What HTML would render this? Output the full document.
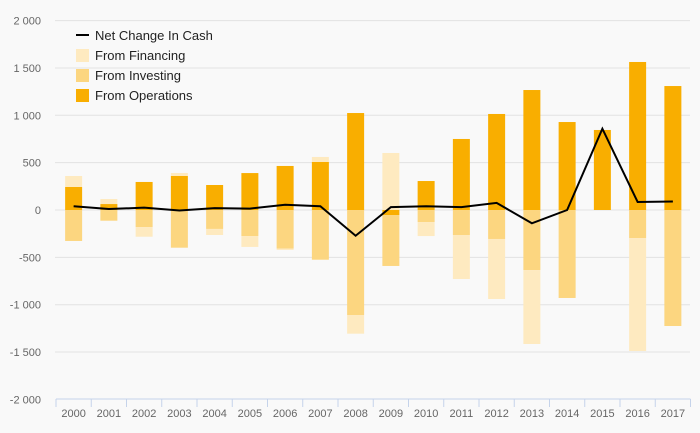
<!DOCTYPE html>
<html><head><meta charset="utf-8"><style>
html,body{margin:0;padding:0;background:#f9f9f9;}
svg{display:block;font-family:"Liberation Sans",sans-serif;}
</style></head><body>
<svg id="chart" width="700" height="433">
<rect width="700" height="433" fill="#f9f9f9"/>
<g id="grid"></g><g id="bars"></g><g id="line"></g><g id="axes"></g>
<g id="legend">
 <g><line x1="76" y1="35" x2="89" y2="35" stroke="#000" stroke-width="2"/><text x="95" y="40" font-size="13" fill="#222">Net Change In Cash</text></g>
 <g><rect x="76" y="49" width="13" height="13" fill="#feeac0"/><text x="95" y="60" font-size="13" fill="#222">From Financing</text></g>
 <g><rect x="76" y="69" width="13" height="13" fill="#fcd680"/><text x="95" y="80" font-size="13" fill="#222">From Investing</text></g>
 <g><rect x="76" y="89" width="13" height="13" fill="#f9ae00"/><text x="95" y="100" font-size="13" fill="#222">From Operations</text></g>
</g>
</svg>
<script>
const years=[2000,2001,2002,2003,2004,2005,2006,2007,2008,2009,2010,2011,2012,2013,2014,2015,2016,2017];
const operations=[243,63,296,359,264,390,465,507,1024,-53,306,750,1014,1267,929,845,1563,1309];
const investing=[-327,-113,-180,-398,-200,-275,-408,-525,-1109,-538,-127,-264,-306,-634,-929,0,-296,-1225];
const financing=[116,53,-102,32,-64,-115,-14,53,-197,602,-148,-465,-634,-781,0,0,-1193,0];
const netChange=[39,10,25,-5,20,15,55,40,-272,30,40,30,75,-140,0,858,85,90];
const yTicks=[-2000,-1500,-1000,-500,0,500,1000,1500,2000];
const yTickLabels=["-2 000","-1 500","-1 000","-500","0","500","1 000","1 500","2 000"];
const NS='http://www.w3.org/2000/svg';
const x0=56,cw=35.25,bw=17;
function y(v){return 210-v*0.0947;}
function xc(i){return x0+cw*i+cw/2;}
function mk(tag,attrs,parent){const e=document.createElementNS(NS,tag);for(const k in attrs)e.setAttribute(k,attrs[k]);parent.appendChild(e);return e;}
const grid=document.getElementById('grid'),axes=document.getElementById('axes'),bars=document.getElementById('bars'),lineG=document.getElementById('line');
yTicks.forEach((t,i)=>{
 if(t!==-2000){const l=mk('line',{x1:55,x2:690,y1:y(t),y2:y(t),stroke:'#e2e2e2','stroke-width':1},grid);
 
 }
 const tx=mk('text',{x:41,y:y(t)+4,'text-anchor':'end','font-size':11,fill:'#666'},axes);
 tx.textContent=yTickLabels[i];
 
 
});
const ax=mk('line',{x1:x0,x2:x0+cw*years.length,y1:399,y2:399,stroke:'#c5d3ea','stroke-width':1},axes);


for(let i=0;i<=years.length;i++){const tk=mk('line',{x1:x0+cw*i,x2:x0+cw*i,y1:399,y2:407,stroke:'#c5d3ea'},axes);
 
 }
years.forEach((yr,i)=>{
 const t=mk('text',{x:xc(i),y:417,'text-anchor':'middle','font-size':11,fill:'#666'},axes);
 t.textContent=yr;
 
 
 let pos=0,neg=0;
 [[operations,'#f9ae00','bar-operations'],[investing,'#fcd680','bar-investing'],[financing,'#feeac0','bar-financing']].forEach(([arr,c,n])=>{
  const v=arr[i]; if(!v)return;
  let a,b; if(v>0){a=pos;b=pos+v;pos=b;}else{a=neg;b=neg+v;neg=b;}
  const r=mk('rect',{x:xc(i)-bw/2,y:Math.min(y(a),y(b)),width:bw,height:Math.abs(y(a)-y(b)),fill:c},bars);
  
  
 });
});
const p=mk('polyline',{points:netChange.map((v,i)=>xc(i)+','+y(v)).join(' '),fill:'none',stroke:'#000','stroke-width':2},lineG);


</script>
</body></html>
